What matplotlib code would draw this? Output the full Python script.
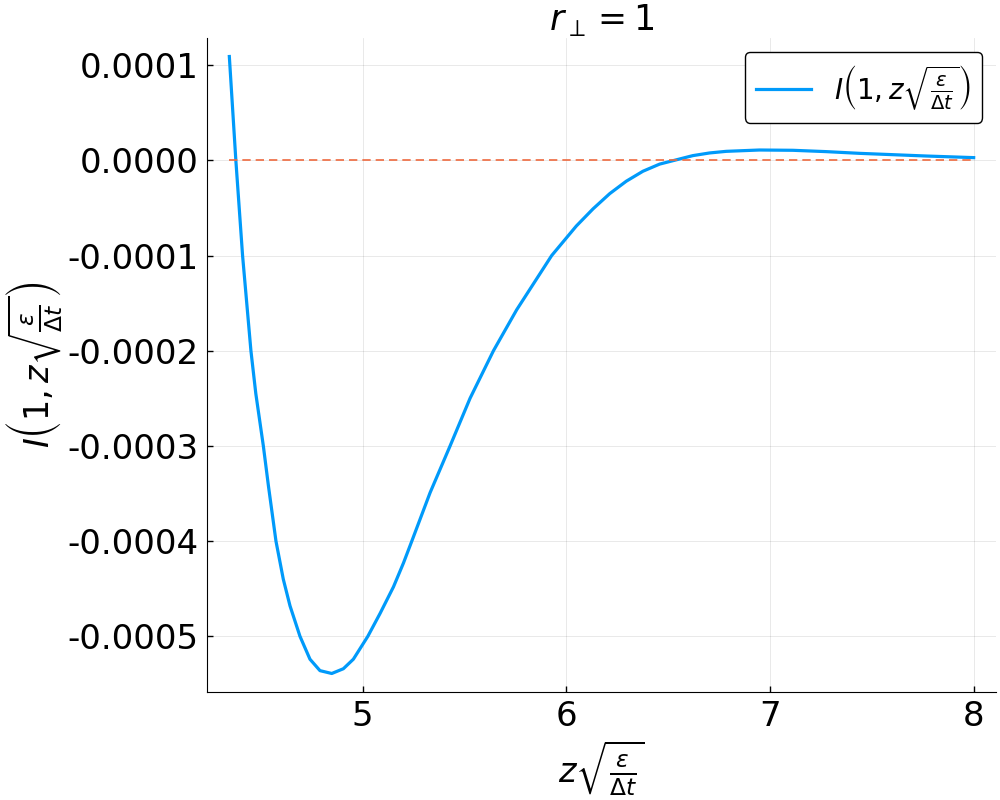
import matplotlib
matplotlib.use("Agg")
import matplotlib.pyplot as plt
from matplotlib.ticker import MultipleLocator, FuncFormatter

# values (y in units of 1e-4)
z_vals = [4.345, 4.377, 4.410, 4.451, 4.475, 4.512, 4.537, 4.574, 4.610, 4.643,
          4.692, 4.741, 4.790, 4.848, 4.905, 4.954, 5.025, 5.085, 5.151, 5.200,
          5.241, 5.331, 5.429, 5.527, 5.642, 5.756, 5.928, 6.049, 6.131, 6.213,
          6.294, 6.376, 6.458, 6.531, 6.621, 6.703, 6.785, 6.948, 7.112, 7.276,
          7.439, 7.603, 7.766, 8.0]
i_vals = [1.09, 0.0, -1.0, -2.0, -2.45, -3.0, -3.42, -4.0, -4.40, -4.68,
          -5.0, -5.24, -5.36, -5.39, -5.34, -5.24, -5.0, -4.76, -4.48, -4.23,
          -4.0, -3.49, -3.0, -2.50, -2.0, -1.57, -1.0, -0.69, -0.51, -0.35,
          -0.22, -0.115, -0.04, 0.0, 0.049, 0.077, 0.094, 0.108, 0.105, 0.091,
          0.073, 0.059, 0.045, 0.028]
i_vals = [v * 1e-4 for v in i_vals]
zero_line = [0.0, 0.0]

plt.rcParams['axes.unicode_minus'] = False
plt.rcParams['mathtext.fontset'] = 'dejavusans'

fig = plt.figure(figsize=(10, 8), dpi=100)
ax = fig.add_axes([0.207, 0.135, 0.789, 0.8175])

label = r'$I\left(1, z\sqrt{\frac{\varepsilon}{\Delta t}}\right)$'
ax.plot(z_vals, i_vals, color='#009AFA', lw=2.3, label=label,
        solid_joinstyle='round')
ax.plot([z_vals[0], z_vals[-1]], zero_line, color='#EE6A3F', lw=1.2,
        linestyle=(0, (5, 3)))
ax.margins(x=0.03, y=0.03)

ax.xaxis.set_major_locator(MultipleLocator(1))
ax.yaxis.set_major_locator(MultipleLocator(1e-4))
ax.yaxis.set_major_formatter(FuncFormatter(lambda v, p: f'{v:.4f}'.replace('-0.0000', '0.0000')))
ax.tick_params(direction='in', length=4, width=1, labelsize=24.5, pad=6)
ax.grid(True, color='#000000', alpha=0.1, linewidth=0.6)
ax.spines['top'].set_visible(False)
ax.spines['right'].set_visible(False)

ax.set_title(r'$r_\perp = 1$', fontsize=25, pad=4)
ax.set_xlabel(r'$z\sqrt{\frac{\varepsilon}{\Delta t}}$', fontsize=24, labelpad=4)
ax.set_ylabel(label, fontsize=24, labelpad=2)

leg = ax.legend(loc='upper right', fontsize=20, fancybox=True, framealpha=1,
                edgecolor='black', handlelength=2.0, borderpad=0.4)
leg.get_frame().set_linewidth(1.0)

fig.savefig('out.png', dpi=100)
